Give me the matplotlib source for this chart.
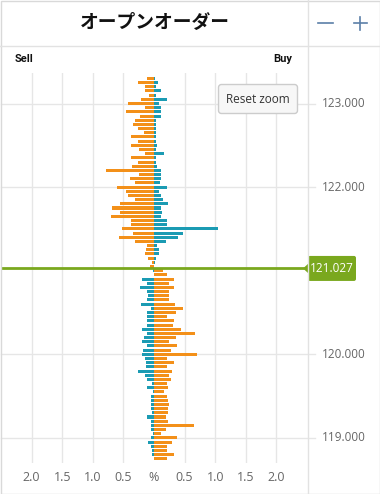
import matplotlib

matplotlib.use("Agg")
import matplotlib.pyplot as plt
import numpy as np
from matplotlib.lines import Line2D
from matplotlib.patches import FancyBboxPatch, Polygon, Rectangle
from matplotlib.transforms import Affine2D

plt.rcParams["font.family"] = ["Open Sans", "DejaVu Sans"]

# order book levels, top to bottom (%, sell goes left, buy goes right)
prices = [
    123.30, 123.25, 123.20, 123.15, 123.10, 123.05, 123.00, 122.95, 122.90, 122.85,
    122.80, 122.75, 122.70, 122.65, 122.60, 122.55, 122.50, 122.45, 122.40, 122.35,
    122.30, 122.25, 122.20, 122.15, 122.10, 122.05, 122.00, 121.95, 121.90, 121.85,
    121.80, 121.75, 121.70, 121.65, 121.60, 121.55, 121.50, 121.45, 121.40, 121.35,
    121.30, 121.25, 121.20, 121.15, 121.10, 121.05, 121.00, 120.95, 120.90, 120.85,
    120.80, 120.75, 120.70, 120.65, 120.60, 120.55, 120.50, 120.45, 120.40, 120.35,
    120.30, 120.25, 120.20, 120.15, 120.10, 120.05, 120.00, 119.95, 119.90, 119.85,
    119.80, 119.75, 119.70, 119.65, 119.60, 119.55, 119.50, 119.45, 119.40, 119.35,
    119.30, 119.25, 119.20, 119.15, 119.10, 119.05, 119.00, 118.95, 118.90, 118.85,
    118.80, 118.75,
]
sell_pct = [
    0.12, 0.26, 0.14, 0.15, 0.08, 0.22, 0.43, 0.14, 0.45, 0.23,
    0.31, 0.34, 0.26, 0.16, 0.37, 0.26, 0.37, 0.24, 0.15, 0.37,
    0.26, 0.36, 0.78, 0.24, 0.39, 0.31, 0.60, 0.46, 0.42, 0.31,
    0.55, 0.69, 0.56, 0.70, 0.37, 0.37, 0.53, 0.34, 0.57, 0.31,
    0.115, 0.13, 0.14, 0.09, 0.035, 0.06, 0.01, 0.0, 0.19, 0.11,
    0.23, 0.11, 0.09, 0.12, 0.22, 0.055, 0.11, 0.12, 0.12, 0.11,
    0.19, 0.12, 0.16, 0.20, 0.12, 0.175, 0.20, 0.14, 0.13, 0.13,
    0.26, 0.15, 0.11, 0.035, 0.11, 0.02, 0.055, 0.045, 0.055, 0.045,
    0.03, 0.11, 0.045, 0.055, 0.045, 0.02, 0.045, 0.09, 0.045, 0.035,
    0.035, 0.0,
]
buy_pct = [
    0.01, 0.065, 0.035, 0.11, 0.025, 0.22, 0.08, 0.11, 0.11, 0.11,
    0.035, 0.035, 0.035, 0.035, 0.035, 0.035, 0.05, 0.035, 0.17, 0.035,
    0.035, 0.05, 0.11, 0.11, 0.11, 0.10, 0.21, 0.08, 0.11, 0.15,
    0.23, 0.11, 0.13, 0.12, 0.21, 0.21, 1.05, 0.48, 0.40, 0.20,
    0.05, 0.08, 0.08, 0.035, 0.01, 0.0, 0.14, 0.22, 0.32, 0.24,
    0.33, 0.24, 0.25, 0.24, 0.35, 0.47, 0.36, 0.22, 0.33, 0.31,
    0.44, 0.67, 0.36, 0.24, 0.37, 0.27, 0.70, 0.22, 0.33, 0.22,
    0.30, 0.24, 0.27, 0.22, 0.23, 0.16, 0.22, 0.23, 0.25, 0.23,
    0.23, 0.19, 0.23, 0.65, 0.19, 0.12, 0.37, 0.30, 0.22, 0.21,
    0.32, 0.21,
]
current_price = 121.027
x_ticks = [-2.0, -1.5, -1.0, -0.5, 0.0, 0.5, 1.0, 1.5, 2.0]
x_tick_labels = ["2.0", "1.5", "1.0", "0.5", "%", "0.5", "1.0", "1.5", "2.0"]
price_labels = [123.0, 122.0, 120.0, 119.0]

ORANGE = "#f39019"
TEAL = "#1b9bb3"
GREEN = "#7aa81e"
GRID = "#e6e6e6"

W, H = 380, 494
fig = plt.figure(figsize=(W / 100, H / 100), dpi=100)
pix = Affine2D().scale(1, -1).translate(0, H)  # pixel coords, origin top-left

# frame, title row and right column
fig.add_artist(Rectangle((0.5, 0.5), W - 1, H - 1, transform=pix, fill=False,
                         ec="#d9d9d9", lw=1))
fig.add_artist(Line2D([0, W], [45.5, 45.5], transform=pix, color="#e2e2e2", lw=1))
fig.add_artist(Line2D([307.5, 307.5], [0, H], transform=pix, color="#e2e2e2", lw=1))
fig.text(155, 22, "オープンオーダー", transform=pix, ha="center", va="center",
         family=["Noto Sans CJK JP", "DejaVu Sans"], fontweight="bold", fontsize=13.5,
         color="#111111")
fig.add_artist(Line2D([318, 333], [23, 23], transform=pix, color="#5b7fa8", lw=1.2))
fig.add_artist(Line2D([353.5, 366.5], [23, 23], transform=pix, color="#5b7fa8", lw=1.2))
fig.add_artist(Line2D([360, 360], [16.5, 29.5], transform=pix, color="#5b7fa8", lw=1.2))
fig.text(15, 59, "Sell", transform=pix, ha="left", va="center", family=["Roboto"],
         fontweight="bold", fontsize=8, color="#111111")
fig.text(292, 59, "Buy", transform=pix, ha="right", va="center", family=["Roboto"],
         fontweight="bold", fontsize=8, color="#111111")

# chart area
left_px, right_px, top_px, bot_px = 1, 307, 73, 463
ax = fig.add_axes([left_px / W, (H - bot_px) / H, (right_px - left_px) / W,
                   (bot_px - top_px) / H])
px_per_unit = 83.6
ax.set_ylim(123 - (bot_px - 103.5) / px_per_unit, 123 + (103.5 - top_px) / px_per_unit)
ax.set_xlim(-2.5, 2.5)
for s in ax.spines.values():
    s.set_visible(False)

for xv in x_ticks:
    if xv != 0:
        ax.axvline(xv, color=GRID, lw=1, zorder=0)
for yv in price_labels:
    ax.plot([0, (315 - left_px) / (right_px - left_px)], [yv, yv], color=GRID, lw=1,
            transform=ax.get_yaxis_transform(), clip_on=False, zorder=0)
    ax.text((322 - left_px) / (right_px - left_px), yv, f"{yv:.3f}",
            transform=ax.get_yaxis_transform(), ha="left", va="center",
            fontsize=8.5, color="#666666")

prices_arr = np.array(prices)
above = prices_arr > current_price
sell_colors = np.where(above, ORANGE, TEAL)
buy_colors = np.where(above, TEAL, ORANGE)
ax.barh(prices_arr, -np.array(sell_pct), height=0.036, color=sell_colors, zorder=2)
ax.barh(prices_arr, np.array(buy_pct), height=0.036, color=buy_colors, zorder=2)

ax.axhline(current_price, xmin=0, xmax=(303 - left_px) / (right_px - left_px),
           color=GREEN, lw=2, zorder=3)

ax.set_xticks(x_ticks, x_tick_labels)
ax.set_yticks([])
ax.tick_params(axis="x", length=0, pad=6, labelsize=9, labelcolor="#666666")

# current price tag
y_cur = 103.5 + (123 - current_price) * px_per_unit
fig.add_artist(FancyBboxPatch((308, y_cur - 12.5), 48, 25, transform=pix,
                              boxstyle="round,pad=0,rounding_size=2", fc=GREEN, ec="none"))
fig.add_artist(Polygon([(303, y_cur), (308.5, y_cur - 5), (308.5, y_cur + 5)],
                       transform=pix, fc=GREEN, ec="none"))
fig.text(332, y_cur, f"{current_price:.3f}", transform=pix, ha="center", va="center",
         fontsize=8.5, color="white")

# reset zoom button
fig.add_artist(FancyBboxPatch((218.5, 84.5), 79, 29, transform=pix,
                              boxstyle="round,pad=0,rounding_size=3", fc="#f7f7f7",
                              ec="#cccccc", lw=1))
fig.text(258, 99, "Reset zoom", transform=pix, ha="center", va="center",
         fontsize=8.5, color="#333333")

fig.savefig("out.png", dpi=100)
